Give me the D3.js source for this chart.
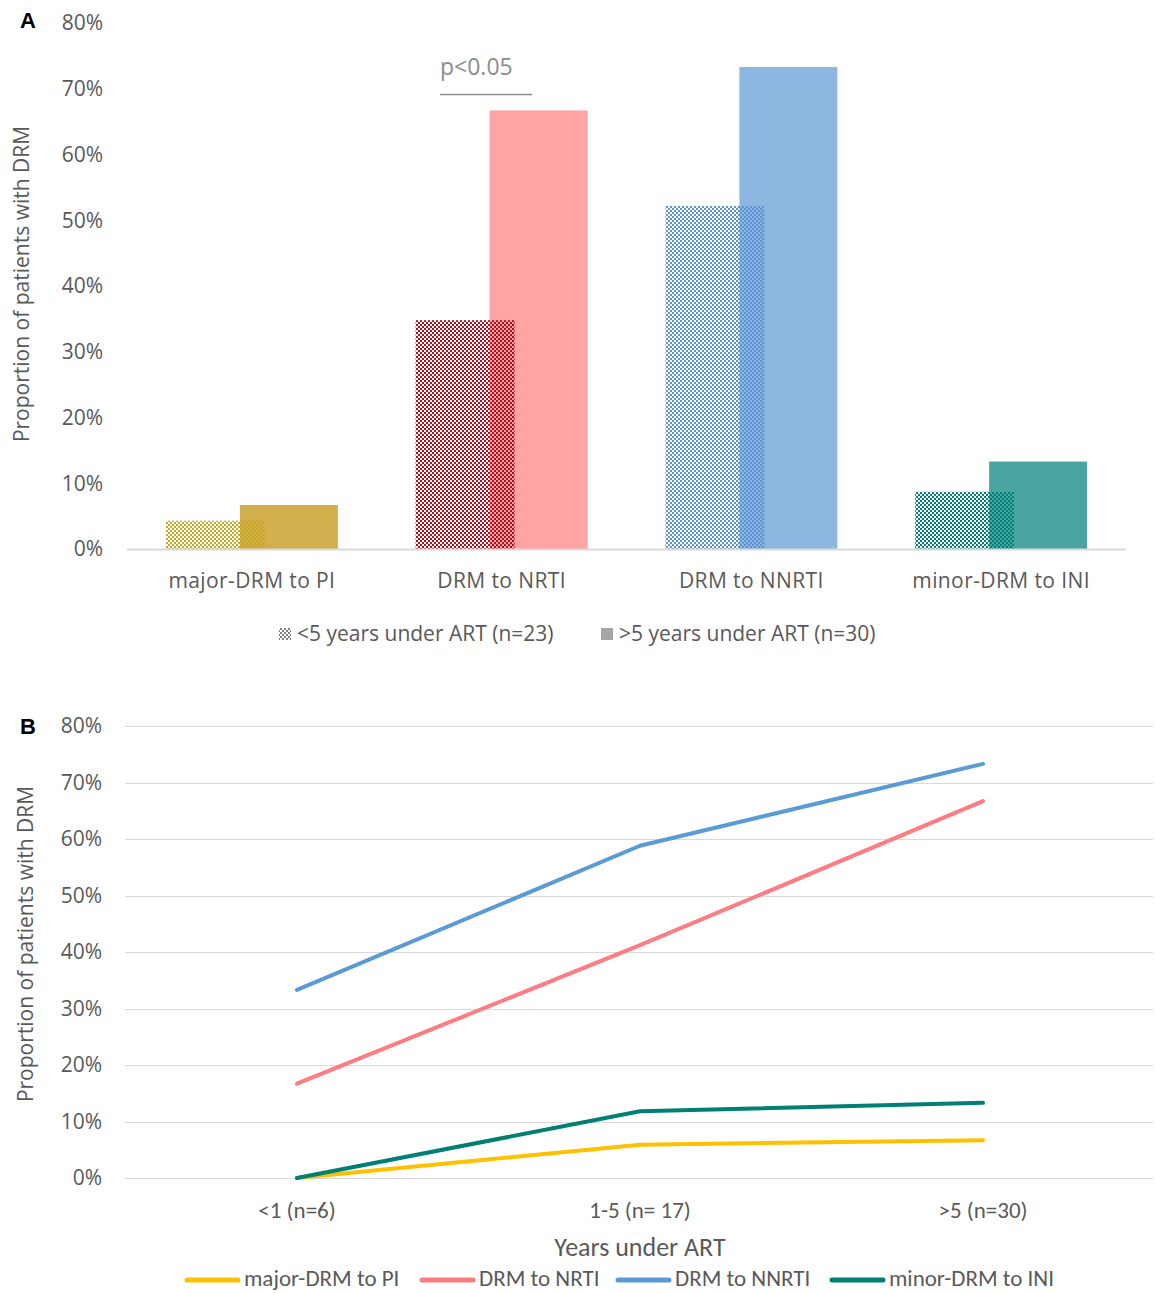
<!DOCTYPE html>
<html>
<head>
<meta charset="utf-8">
<script src="https://cdn.jsdelivr.net/npm/d3@7"></script>
<style>
  body { margin: 0; background: #fff; }
  svg { display: block; }
  text { font-family: "Open Sans", "Noto Sans", sans-serif; fill: #595959; }
  .narrow { font-family: Carlito, "Liberation Sans Narrow", "Open Sans", sans-serif; }
</style>
</head>
<body>
<div id="chart"></div>
<script>
// Panel A data
var drugClasses = ["major-DRM to PI", "DRM to NRTI", "DRM to NNRTI", "minor-DRM to INI"];
var under5 = [0.043, 0.348, 0.522, 0.087];
var over5 = [0.067, 0.667, 0.733, 0.133];
var groupNames = ["<5 years under ART (n=23)", ">5 years under ART (n=30)"];

// Panel B data
var yearGroups = ["<1 (n=6)", "1-5 (n= 17)", ">5 (n=30)"];
var seriesNames = ["major-DRM to PI", "DRM to NRTI", "DRM to NNRTI", "minor-DRM to INI"];
var piVals = [0, 0.059, 0.067];
var nrtiVals = [0.167, 0.412, 0.667];
var nnrtiVals = [0.333, 0.588, 0.733];
var iniVals = [0, 0.118, 0.133];

var yTicks = [0, 0.1, 0.2, 0.3, 0.4, 0.5, 0.6, 0.7, 0.8];

// colours
var solidCol = ["#d1af4c", "#ffa3a5", "#8db6e0", "#4aa5a0"];
var patCol = ["#c9a825", "#b0101e", "#5b93cf", "#00827a"];
var lineCol = ["#ffc000", "#ff7c80", "#5b9bd5", "#007f73"];

var W = 1155, H = 1293;
var svg = d3.select("#chart").append("svg").attr("width", W).attr("height", H);

var defs = svg.append("defs");
function checker(id, col) {
  var p = defs.append("pattern").attr("id", id).attr("patternUnits", "userSpaceOnUse")
    .attr("width", 4).attr("height", 4);
  p.append("rect").attr("x", 0).attr("y", 0).attr("width", 2).attr("height", 2).attr("fill", col);
  p.append("rect").attr("x", 2).attr("y", 2).attr("width", 2).attr("height", 2).attr("fill", col);
}
patCol.forEach(function(c, i) { checker("chk" + i, c); });
checker("chkGray", "#7f7f7f");

// ---------- Panel A ----------
var xA = d3.scaleBand().domain(drugClasses).range([127, 1126]);
var yA = d3.scaleLinear().domain([0, 0.8]).range([549, 23]);

var gA = svg.append("g");

gA.selectAll(".ytA").data(yTicks).enter().append("text")
  .attr("x", 103).attr("y", function(d) { return yA(d); })
  .attr("dy", "0.35em").attr("text-anchor", "end")
  .style("font-size", "21px")
  .text(function(d) { return d3.format(".0%")(d); });

// solid bars (>5 years)
gA.selectAll(".barO").data(over5).enter().append("rect")
  .attr("x", function(d, i) { return xA(drugClasses[i]) + xA.bandwidth() / 2 - 12; })
  .attr("y", function(d) { return yA(d); })
  .attr("width", 98)
  .attr("height", function(d) { return yA(0) - yA(d); })
  .attr("fill", function(d, i) { return solidCol[i]; });

// patterned bars (<5 years)
gA.selectAll(".barU").data(under5).enter().append("rect")
  .attr("x", function(d, i) { return xA(drugClasses[i]) + xA.bandwidth() / 2 - 86; })
  .attr("y", function(d) { return yA(d); })
  .attr("width", 99)
  .attr("height", function(d) { return yA(0) - yA(d); })
  .attr("fill", function(d, i) { return "url(#chk" + i + ")"; });

gA.append("line").attr("x1", 127).attr("x2", 1126).attr("y1", 549.5).attr("y2", 549.5)
  .attr("stroke", "#d9d9d9").attr("stroke-width", 2);

gA.selectAll(".xlA").data(drugClasses).enter().append("text")
  .attr("x", function(d) { return xA(d) + xA.bandwidth() / 2; })
  .attr("y", 581).attr("dy", "0.35em").attr("text-anchor", "middle")
  .style("font-size", "21px").style("letter-spacing", "0.4px")
  .text(function(d) { return d; });

// significance mark
gA.append("text").attr("x", 440).attr("y", 67).attr("dy", "0.35em")
  .style("font-size", "23px").style("fill", "#8c8c8c").text("p<0.05");
gA.append("line").attr("x1", 440).attr("x2", 532).attr("y1", 94.5).attr("y2", 94.5)
  .attr("stroke", "#8c8c8c").attr("stroke-width", 1.5);

// legend A
var legA = [{x: 279, fill: "url(#chkGray)"}, {x: 601, fill: "#a6a6a6"}];
legA.forEach(function(l, i) {
  gA.append("rect").attr("x", l.x).attr("y", 628).attr("width", 12).attr("height", 12).attr("fill", l.fill);
  gA.append("text").attr("x", l.x + 18).attr("y", 634).attr("dy", "0.35em")
    .style("font-size", "21px").text(groupNames[i]);
});

gA.append("text").attr("transform", "translate(22,284) rotate(-90)")
  .attr("text-anchor", "middle").attr("dy", "0.35em")
  .style("font-size", "21px").text("Proportion of patients with DRM");

svg.append("text").attr("x", 20).attr("y", 20).attr("dy", "0.35em")
  .style("font-family", "'Liberation Sans', Arial, sans-serif").style("font-weight", "bold")
  .style("font-size", "22px").style("fill", "#000").text("A");

// ---------- Panel B ----------
var xB = d3.scalePoint().domain(yearGroups).range([297, 983]);
var yB = d3.scaleLinear().domain([0, 0.8]).range([1178, 726]);

var gB = svg.append("g");

gB.selectAll(".grid").data(yTicks).enter().append("line")
  .attr("x1", 125).attr("x2", 1153)
  .attr("y1", function(d) { return Math.round(yB(d)) + 0.5; })
  .attr("y2", function(d) { return Math.round(yB(d)) + 0.5; })
  .attr("stroke", "#d9d9d9").attr("stroke-width", 1);

gB.selectAll(".ytB").data(yTicks).enter().append("text")
  .attr("x", 102).attr("y", function(d) { return yB(d); })
  .attr("dy", "0.35em").attr("text-anchor", "end")
  .style("font-size", "21px")
  .text(function(d) { return d3.format(".0%")(d); });

var seriesVals = [piVals, nrtiVals, nnrtiVals, iniVals];
var line = d3.line()
  .x(function(d, i) { return xB(yearGroups[i]); })
  .y(function(d) { return yB(d); });

// draw in order so the later series sit on top
[2, 1, 0, 3].forEach(function(k) {
  gB.append("path").datum(seriesVals[k]).attr("d", line)
    .attr("fill", "none").attr("stroke", lineCol[k]).attr("stroke-width", 4)
    .attr("stroke-linecap", "round").attr("stroke-linejoin", "round");
});

gB.selectAll(".xlB").data(yearGroups).enter().append("text")
  .attr("class", "narrow")
  .attr("x", function(d) { return xB(d); })
  .attr("y", 1210).attr("dy", "0.35em").attr("text-anchor", "middle")
  .style("font-size", "23px")
  .text(function(d) { return d; });

gB.append("text").attr("class", "narrow").attr("x", 640).attr("y", 1247).attr("dy", "0.35em")
  .attr("text-anchor", "middle").style("font-size", "26px").text("Years under ART");

gB.append("text").attr("transform", "translate(26,944) rotate(-90)")
  .attr("text-anchor", "middle").attr("dy", "0.35em")
  .style("font-size", "21px").text("Proportion of patients with DRM");

svg.append("text").attr("x", 20).attr("y", 726).attr("dy", "0.35em")
  .style("font-family", "'Liberation Sans', Arial, sans-serif").style("font-weight", "bold")
  .style("font-size", "22px").style("fill", "#000").text("B");

// legend B
var legBx = [185, 420, 616, 830];
seriesNames.forEach(function(n, i) {
  gB.append("line").attr("x1", legBx[i] + 2).attr("x2", legBx[i] + 53)
    .attr("y1", 1280).attr("y2", 1280)
    .attr("stroke", lineCol[i]).attr("stroke-width", 5).attr("stroke-linecap", "round");
  gB.append("text").attr("class", "narrow").attr("x", legBx[i] + 59).attr("y", 1278).attr("dy", "0.35em")
    .style("font-size", "23px").text(n);
});
</script>
</body>
</html>
